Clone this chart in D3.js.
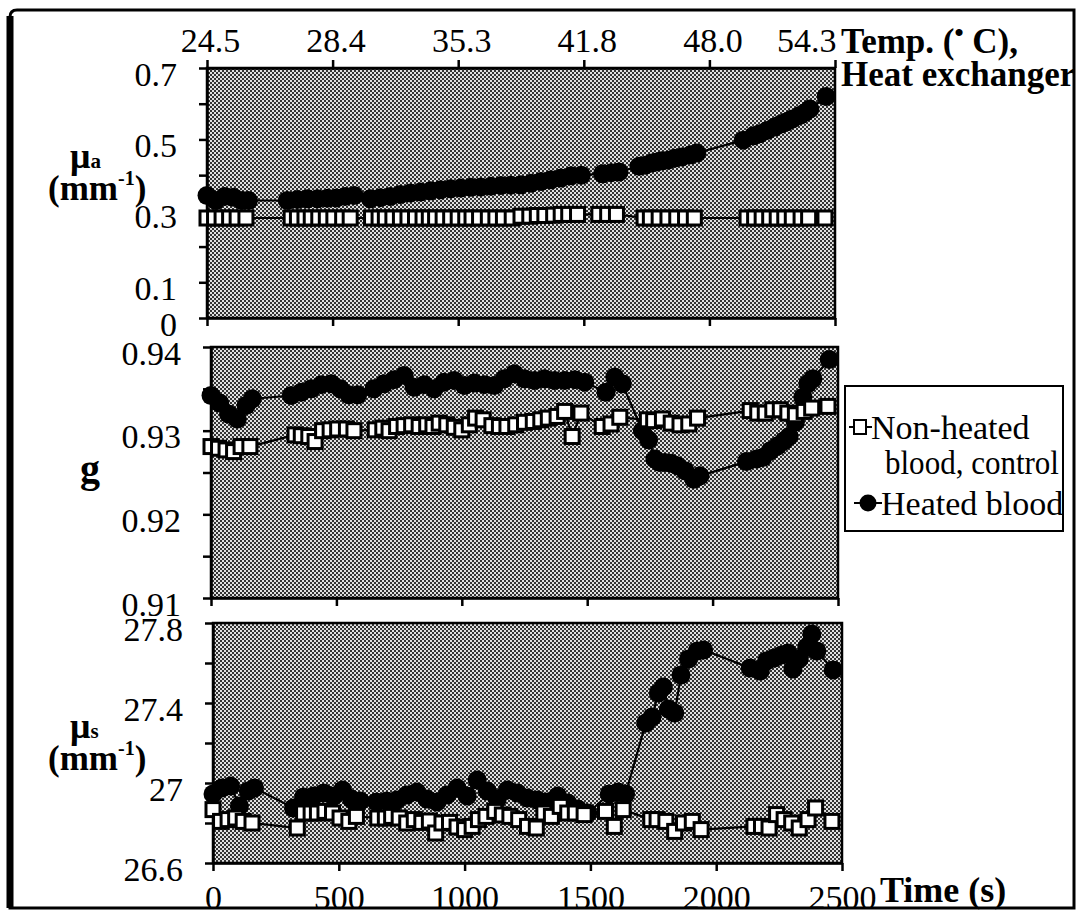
<!DOCTYPE html>
<html><head><meta charset="utf-8">
<script src="https://cdn.jsdelivr.net/npm/d3@7"></script>
</head>
<body style="margin:0">
<svg id="chart" width="1079" height="912"></svg>
<script>
// ---------- data ----------
const timeTicks = [0, 500, 1000, 1500, 2000, 2500];
const tempLabels = ["24.5", "28.4", "35.3", "41.8", "48.0", "54.3"];

const tControl = [0,30,60,90,120,155,
  335,360,390,415,445,475,505,540,570,
  655,685,710,740,770,800,830,860,885,910,940,970,1000,1030,1055,1085,1120,1150,1180,1215,1250,1285,1315,1345,1380,1410,1440,1475,
  1560,1595,1630,
  1740,1765,1800,1835,1870,1905,1940,
  2150,2180,2210,2240,2270,2300,2330,2365,2395,2460];
const muaControl = [0.28,0.28,0.28,0.28,0.28,0.28,
  0.28,0.28,0.28,0.28,0.28,0.28,0.28,0.28,0.28,
  0.28,0.28,0.28,0.28,0.28,0.28,0.28,0.28,0.28,0.28,0.28,0.28,0.28,0.28,0.28,0.28,0.28,0.28,0.28,0.28,0.285,0.285,0.287,0.287,0.288,0.29,0.29,0.29,
  0.29,0.29,0.29,
  0.28,0.28,0.28,0.28,0.28,0.28,0.28,
  0.28,0.28,0.28,0.28,0.28,0.28,0.28,0.28,0.28,0.28];
const gControl = [0.9281,0.9279,0.9277,0.9275,0.9281,0.9281,
  0.9295,0.9294,0.9293,0.9287,0.9300,0.9301,0.9302,0.9302,0.9300,
  0.9301,0.9303,0.9300,0.9305,0.9306,0.9307,0.9305,0.9307,0.9305,0.9309,0.9307,0.9304,0.9301,0.9307,0.9315,0.9313,0.9306,0.9305,0.9305,0.9307,0.9310,0.9311,0.9313,0.9315,0.9317,0.9323,0.9293,0.9321,
  0.9305,0.9308,0.9316,
  0.9313,0.9312,0.9314,0.9309,0.9307,0.9308,0.9315,
  0.9324,0.9321,0.9321,0.9325,0.9325,0.9321,0.9319,0.9323,0.9327,0.9329];
const musControl = [26.867,26.808,26.817,26.825,26.808,26.80,
  26.775,26.85,26.85,26.85,26.858,26.85,26.825,26.808,26.833,
  26.825,26.825,26.833,26.825,26.80,26.817,26.803,26.81,26.75,26.80,26.803,26.78,26.767,26.783,26.817,26.833,26.858,26.84,26.833,26.817,26.783,26.775,26.85,26.833,26.883,26.85,26.85,26.842,
  26.858,26.783,26.867,
  26.817,26.817,26.808,26.758,26.80,26.808,26.767,
  26.783,26.783,26.775,26.842,26.817,26.80,26.775,26.817,26.875,26.808];

const tHeated = [0,35,70,105,140,165,
  320,360,400,440,480,515,550,585,
  650,690,730,770,810,850,890,930,970,1010,1050,1090,1130,1170,1210,1250,1290,1330,1370,1410,1450,1490,
  1575,1610,1640,
  1720,1745,1770,1790,1810,1835,1860,1890,1925,1950,
  2135,2175,2200,2230,2260,2285,2305,2330,2360,2380,2400,2465];
const muaHeated = [0.343,0.329,0.34,0.338,0.329,0.329,
  0.329,0.332,0.334,0.334,0.335,0.336,0.34,0.343,
  0.334,0.337,0.340,0.346,0.350,0.353,0.356,0.359,0.362,0.364,0.366,0.367,0.369,0.371,0.372,0.373,0.377,0.382,0.387,0.392,0.398,0.400,
  0.404,0.407,0.409,
  0.425,0.428,0.434,0.437,0.44,0.442,0.447,0.451,0.457,0.462,
  0.498,0.51,0.516,0.525,0.535,0.543,0.549,0.557,0.567,0.575,0.585,0.620];
const gHeated = [0.9342,0.9333,0.9320,0.9314,0.9330,0.9338,
  0.9342,0.9346,0.9350,0.9355,0.9356,0.9350,0.9343,0.9343,
  0.9350,0.9356,0.9361,0.9366,0.9352,0.9355,0.9350,0.9358,0.9360,0.9354,0.9357,0.9355,0.9354,0.9362,0.9368,0.9362,0.9360,0.9362,0.9360,0.9360,0.9361,0.9358,
  0.9346,0.9364,0.9356,
  0.9300,0.9289,0.9266,0.9262,0.9262,0.9261,0.9258,0.9252,0.9242,0.9246,
  0.9263,0.9266,0.9268,0.9276,0.9282,0.9288,0.9293,0.9310,0.9340,0.9356,0.9362,0.9385];
const musHeated = [26.945,26.975,26.985,26.885,26.96,26.975,
  26.875,26.93,26.935,26.95,26.935,26.965,26.92,26.91,
  26.905,26.91,26.915,26.94,26.955,26.92,26.905,26.94,26.975,26.935,27.015,26.96,26.92,26.965,26.95,26.925,26.915,26.905,26.935,26.9,26.87,26.85,
  26.945,26.955,26.945,
  27.30,27.33,27.45,27.48,27.37,27.35,27.54,27.62,27.66,27.665,
  27.575,27.56,27.61,27.625,27.64,27.65,27.57,27.62,27.68,27.745,27.66,27.565];

const seriesNames = ["Non-heated", "blood, control", "Heated blood"];

// ---------- drawing ----------
const FONT = "'Liberation Serif'";
const svg = d3.select("#chart");
const defs = svg.append("defs");
const pat = defs.append("pattern").attr("id","dither").attr("patternUnits","userSpaceOnUse")
  .attr("width",4).attr("height",4);
pat.append("rect").attr("width",4).attr("height",4).attr("fill","#e0e0e0");
pat.append("rect").attr("x",0).attr("y",0).attr("width",2).attr("height",2).attr("fill","#333");
pat.append("rect").attr("x",2).attr("y",2).attr("width",2).attr("height",2).attr("fill","#333");

const panels = [
  {x0:207, x1:835, y0:68,  y1:318, dom:[0,0.7], ticks:[0,0.1,0.2,0.3,0.4,0.5,0.6,0.7],
   labels:{"0":"0","0.1":"0.1","0.3":"0.3","0.5":"0.5","0.7":"0.7"}, c:muaControl, h:muaHeated, top:true},
  {x0:211, x1:838, y0:347, y1:598, dom:[0.91,0.94], ticks:[0.91,0.915,0.92,0.925,0.93,0.935,0.94],
   labels:{"0.91":"0.91","0.92":"0.92","0.93":"0.93","0.94":"0.94"}, c:gControl, h:gHeated},
  {x0:213, x1:842, y0:623, y1:863, dom:[26.6,27.8], ticks:[26.6,26.8,27,27.2,27.4,27.6,27.8],
   labels:{"26.6":"26.6","27":"27","27.4":"27.4","27.8":"27.8"}, c:musControl, h:musHeated, bottom:true}
];

function styleAxis(a){
  a.attr("font-family", null);
  a.select(".domain").attr("stroke","#000").attr("stroke-width",2.5);
  a.selectAll(".tick line").attr("stroke","#000").attr("stroke-width",2.5);
  a.selectAll(".tick text").attr("font-size",34).attr("fill","#000");
}

panels.forEach(p => {
  const x = d3.scaleLinear().domain([0,2500]).range([p.x0, p.x1]);
  const y = d3.scaleLinear().domain(p.dom).range([p.y1, p.y0]);
  const g = svg.append("g");
  g.append("rect").attr("x",p.x0).attr("y",p.y0).attr("width",p.x1-p.x0).attr("height",p.y1-p.y0)
    .attr("fill","url(#dither)").attr("stroke","#000").attr("stroke-width",2.5);

  const ya = g.append("g").attr("transform",`translate(${p.x0},0)`)
    .call(d3.axisLeft(y).tickValues(p.ticks).tickSize(8).tickSizeOuter(0).tickPadding(22)
      .tickFormat(v => p.labels[String(+v.toFixed(3))] || ""));
  styleAxis(ya);
  ya.selectAll(".tick text").attr("dy","0.5em");

  const xb = g.append("g").attr("transform",`translate(0,${p.y1})`)
    .call(d3.axisBottom(x).tickValues(timeTicks).tickSize(8).tickSizeOuter(0).tickPadding(14)
      .tickFormat(p.bottom ? d3.format("d") : () => ""));
  styleAxis(xb);

  if (p.top) {
    const xt = g.append("g").attr("transform",`translate(0,${p.y0})`)
      .call(d3.axisTop(x).tickValues(timeTicks).tickSize(8).tickSizeOuter(0).tickPadding(6)
        .tickFormat((d,i) => tempLabels[i]));
    styleAxis(xt);
    const last = timeTicks.length - 1;
    xt.selectAll(".tick text")
      .attr("text-anchor",(d,i)=> i===last ? "end" : "middle")
      .attr("dx",(d,i)=> i===last ? 1 : 3).attr("dy","-0.05em");
  }

  const line = d3.line().x(d => x(d[0])).y(d => y(d[1]));
  const hd = tHeated.map((t,i) => [t, p.h[i]]);
  const cd = tControl.map((t,i) => [t, p.c[i]]);
  g.append("path").datum(hd).attr("d",line).attr("fill","none").attr("stroke","#000").attr("stroke-width",2.2);
  g.selectAll("circle.h").data(hd).join("circle").attr("class","h")
    .attr("cx",d=>x(d[0])).attr("cy",d=>y(d[1])).attr("r",9.5).attr("fill","#000");
  g.append("path").datum(cd).attr("d",line).attr("fill","none").attr("stroke","#000").attr("stroke-width",2.2);
  g.selectAll("rect.c").data(cd).join("rect").attr("class","c")
    .attr("x",d=>x(d[0])-7).attr("y",d=>y(d[1])-7).attr("width",14).attr("height",14)
    .attr("fill","#fff").attr("stroke","#000").attr("stroke-width",3);
});

// Y titles
function yTitle(sub, cy){
  const t = svg.append("text").attr("font-weight","bold").attr("font-size",36).attr("x",70).attr("y",cy);
  t.append("tspan").text("μ");
  t.append("tspan").attr("font-size",21).text(sub);
  const u = svg.append("text").attr("font-weight","bold").attr("font-size",35).attr("x",48).attr("y",cy+32);
  u.append("tspan").text("(mm");
  u.append("tspan").attr("font-size",20).attr("dy",-15).text("-1");
  u.append("tspan").attr("dy",15).text(")");
}
yTitle("a",168);
svg.append("text").attr("font-weight","bold").attr("font-size",40).attr("x",80).attr("y",482).text("g");
yTitle("s",738);

// Temp title
const tt = svg.append("text").attr("font-weight","bold").attr("font-size",35).attr("x",841).attr("y",53);
tt.append("tspan").text("Temp. (");
tt.append("tspan").attr("font-size",26).attr("dy",-12).text("•");
tt.append("tspan").attr("dy",12).text(" C),");
svg.append("text").attr("font-weight","bold").attr("font-size",35).attr("x",841).attr("y",86).text("Heat exchanger");

// Time title
svg.append("text").attr("font-weight","bold").attr("font-size",36).attr("x",880).attr("y",902).text("Time (s)");

// Legend
const lg = svg.append("g");
lg.append("rect").attr("x",845).attr("y",386).attr("width",218).attr("height",145)
  .attr("fill","#fff").attr("stroke","#000").attr("stroke-width",2);
lg.append("line").attr("x1",849).attr("x2",872).attr("y1",427).attr("y2",427).attr("stroke","#000").attr("stroke-width",2);
lg.append("rect").attr("x",854).attr("y",420).attr("width",12).attr("height",14).attr("fill","#fff").attr("stroke","#000").attr("stroke-width",2);
lg.append("text").attr("x",871).attr("y",439).attr("font-size",34).text(seriesNames[0]);
lg.append("text").attr("x",885).attr("y",474).attr("font-size",34)
  .attr("textLength",174).attr("lengthAdjust","spacingAndGlyphs").text(seriesNames[1]);
lg.append("line").attr("x1",854).attr("x2",882).attr("y1",503).attr("y2",503).attr("stroke","#000").attr("stroke-width",2);
lg.append("circle").attr("cx",868).attr("cy",503).attr("r",8.5).attr("fill","#000");
lg.append("text").attr("x",881).attr("y",515).attr("font-size",34).text(seriesNames[2]);

// clip right + frame
svg.append("rect").attr("x",1074).attr("y",0).attr("width",10).attr("height",912).attr("fill","#fff");
svg.append("path").attr("d","M10,908 L10,17 Q10,10 17,10 L1074,10 L1074,908 Z")
  .attr("fill","none").attr("stroke","#000").attr("stroke-width",3);
svg.append("line").attr("x1",10).attr("x2",10).attr("y1",16).attr("y2",908).attr("stroke","#000").attr("stroke-width",7);

svg.selectAll("text").style("font-family", FONT).attr("fill","#000");
</script>
</body></html>
